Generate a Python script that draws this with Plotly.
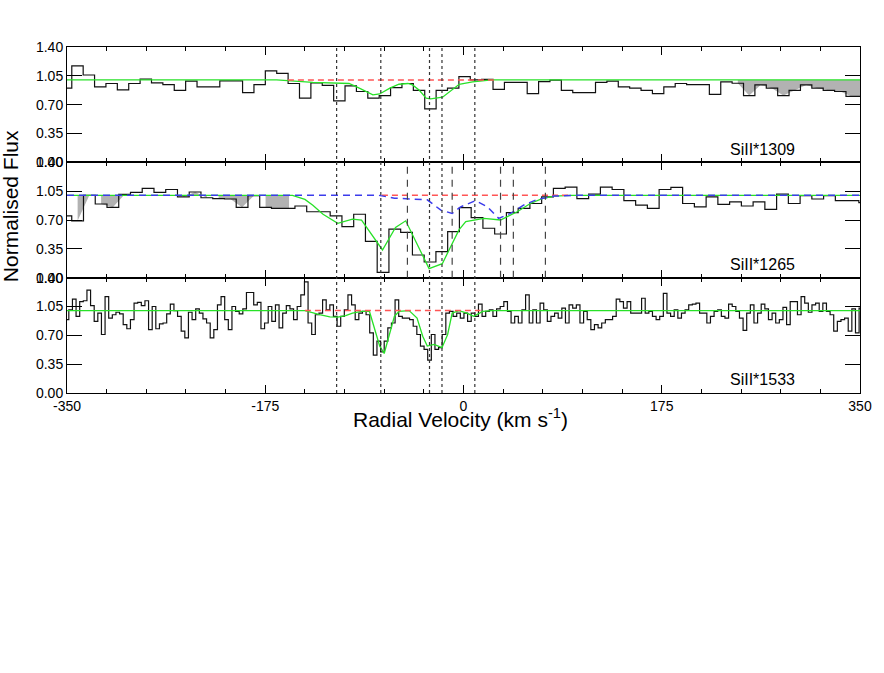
import numpy as np
import plotly.graph_objects as go
from plotly.subplots import make_subplots

# --- spectra: first bin centre, bin width (km/s) and normalised flux per bin ---
v0_1309, dv_1309 = -350.8, 10.05
flux_1309 = [0.90, 1.17, 1.06, 0.915, 0.957, 0.88, 0.957, 1.01, 0.964, 0.944,
             0.874, 0.985, 0.915, 0.915, 0.99, 0.99, 0.845, 0.944, 1.11, 1.08,
             0.957, 0.78, 0.964, 0.935, 0.747, 0.927, 0.86, 0.78, 0.81, 0.907,
             0.957, 0.874, 0.65, 0.874, 0.90, 1.04, 1.0, 1.006, 0.886, 0.97,
             0.97, 0.833, 0.98, 0.997, 0.874, 0.845, 0.845, 0.97, 0.985, 0.915,
             0.90, 0.874, 0.833, 0.915, 0.957, 0.944, 0.944, 0.824, 0.977, 0.96,
             0.81, 0.94, 0.90, 0.81, 0.874, 0.94, 0.90, 0.874, 0.86, 0.80, 0.80]

v0_1265, dv_1265 = -351.0, 10.37
flux_1265 = [0.75, 0.69, 1.0, 0.894, 0.854, 1.01, 1.036, 1.085, 1.036, 1.07,
             0.98, 1.04, 0.97, 0.96, 0.955, 0.854, 0.995, 0.854, 0.84, 0.84,
             0.87, 0.80, 0.80, 0.75, 0.62, 0.77, 0.44, 0.065, 0.59, 0.55,
             0.275, 0.19, 0.315, 0.56, 0.85, 0.73, 0.60, 0.53, 0.79, 0.84,
             0.90, 0.98, 1.085, 1.10, 0.96, 1.015, 1.10, 1.07, 0.935, 0.88,
             0.84, 1.07, 1.097, 0.90, 0.86, 0.98, 0.89, 0.92, 0.87, 0.92,
             0.83, 1.015, 0.90, 0.995, 0.955, 0.995, 0.935, 0.935, 0.91]

v0_1533, dv_1533 = -350.0, 3.2
flux_1533 = [0.89, 1.01, 1.14, 0.93, 1.11, 1.12, 1.25, 1.06, 0.87, 0.97,
             0.71, 1.17, 0.91, 0.95, 0.98, 0.96, 0.83, 0.78, 0.89, 1.09,
             1.10, 1.06, 1.12, 0.77, 1.05, 0.78, 0.84, 0.85, 0.96, 1.08,
             1.00, 0.93, 0.75, 0.67, 0.98, 0.89, 1.02, 0.97, 0.90, 0.85,
             0.67, 0.77, 1.07, 1.17, 0.89, 0.77, 1.05, 0.99, 0.96, 1.02,
             1.22, 1.22, 1.07, 1.10, 0.78, 0.85, 1.05, 0.87, 1.07, 0.79,
             0.97, 1.06, 1.02, 0.89, 1.05, 1.19, 1.35, 0.85, 0.71, 0.95,
             0.97, 1.13, 1.01, 1.07, 0.93,
             0.81, 0.93, 1.01, 1.19, 1.07, 0.89, 0.97, 0.99, 0.95, 0.73,
             0.46, 0.63, 0.50, 0.63, 0.79, 0.85, 1.13, 0.93, 0.91, 0.91,
             0.89, 0.81, 0.71, 0.57, 0.53, 0.40, 0.71, 0.53, 0.55, 0.71,
             0.97, 0.99, 0.93, 0.97, 0.91, 0.97, 0.87, 0.97, 0.93, 1.08,
             0.93, 0.99, 1.01, 0.93, 1.02, 1.05, 1.11, 0.99, 0.85, 0.93,
             0.85, 1.01, 1.19, 0.85, 1.01, 0.85, 1.09, 1.01, 0.87, 0.93,
             0.97, 0.91, 1.03, 0.85, 1.07, 1.03,
             1.07, 0.85, 0.99, 0.89, 0.77, 0.83, 0.79, 0.85, 0.89, 0.89,
             0.93, 1.14, 1.11, 1.03, 1.11, 0.97, 0.97, 0.97, 1.15, 0.97,
             0.99, 0.93, 0.89, 0.93, 1.21, 0.97, 0.93, 1.01, 0.91, 0.97,
             1.01, 1.07, 1.08, 1.09, 0.97, 0.97, 0.85, 0.93, 0.99, 1.01,
             0.93, 0.91, 1.08, 1.05, 0.99, 0.91, 0.76, 0.97, 1.07, 0.85,
             0.97, 1.08, 1.02, 0.89, 0.97, 0.85, 0.89, 1.04, 0.83, 1.11,
             1.11, 0.95, 1.17, 1.09, 0.98, 1.07, 1.09, 0.99, 1.09, 0.99,
             0.95, 0.75, 0.87, 0.89, 0.91, 0.75, 1.02, 0.73, 1.03]

# --- fitted models (green) ---
model_1309_v = [-350, -165, -133, -112, -101, -92, -80, -74, -65, -57, -49, -45,
                -39, -33, -29, -18.5, -12.6, -3.8, 8, 25, 350]
model_1309_f = [1.0, 1.0, 0.97, 0.965, 0.957, 0.90, 0.82, 0.83, 0.90, 0.948, 0.957, 0.94,
                0.874, 0.78, 0.77, 0.79, 0.85, 0.948, 0.976, 1.0, 1.0]

model_1265_v = [-350, -151, -140, -133, -124, -111, -98, -90, -71.5, -60, -51,
                -30.4, -18.7, -4, 2, 18, 32.7, 47.4, 59, 69.4, 80, 95, 350]
model_1265_f = [1.0, 1.0, 0.95, 0.88, 0.77, 0.66, 0.71, 0.70, 0.336, 0.61, 0.69,
                0.11, 0.17, 0.58, 0.68, 0.72, 0.70, 0.80, 0.90, 0.96, 0.99, 1.0, 1.0]

model_1533_v = [-350, -140, -127, -118, -111, -104, -98, -90, -83, -79, -74, -70,
                -66, -61, -57, -48, -41, -36, -32, -26, -19, -14, -10, -4, 3, 9,
                17, 25, 350]
model_1533_f = [1.0, 1.0, 0.95, 0.925, 0.92, 0.94, 0.97, 0.99, 0.99, 0.80, 0.57, 0.48,
                0.68, 0.93, 0.99, 1.0, 0.91, 0.69, 0.57, 0.59, 0.55, 0.71, 0.97, 1.0, 0.97, 0.93,
                0.99, 1.0, 1.0]

# blended contribution in the 1265 panel (blue)
blend_1265_v = [-350, -75, -61, -32, -20, -10, -2.5, 10.7, 21, 31, 41.5, 53, 65, 80, 100, 350]
blend_1265_f = [1.0, 1.0, 0.965, 0.945, 0.82, 0.78, 0.86, 0.935, 0.86, 0.72, 0.78, 0.88,
                0.95, 0.99, 1.0, 1.0]

# continuum (red) ranges
red_1309 = (-155, 27)
red_1265 = (-72, 95)
red_1533 = (-140, 15)

# masked (contaminated) ranges, shaded grey
masks_1309 = [(240, 355)]
masks_1265 = [(-341, -329), (-321, -298), (-248, -226), (-217, -185), (-175, -153)]

# velocity components
comp_dotted = [-112, -73, -30, -19, 10]
comp_dashed = [-49.5, -10, 32.7, 44, 72.3]

labels = ['SiII*1309', 'SiII*1265', 'SiII*1533']
x_ticks = [-350, -175, 0, 175, 350]
y_ticks = [0, 0.35, 0.7, 1.05, 1.4]

vel_1309 = v0_1309 + dv_1309 * np.arange(len(flux_1309))
vel_1265 = v0_1265 + dv_1265 * np.arange(len(flux_1265))
vel_1533 = v0_1533 + dv_1533 * np.arange(len(flux_1533))

fig = make_subplots(rows=3, cols=1, shared_xaxes=True, vertical_spacing=0)

GREEN = 'rgb(40,225,40)'
RED = 'rgb(255,85,85)'
BLUE = 'rgb(60,60,235)'
GREY = 'rgb(178,178,178)'


def add_masks(vel, flux, masks, row):
    vel = np.asarray(vel)
    flux = np.asarray(flux)
    for lo, hi in masks:
        sel = (vel >= lo) & (vel <= hi)
        xs, ys = vel[sel], flux[sel]
        fig.add_trace(go.Scatter(
            x=[xs[0]] + list(xs) + [xs[-1]], y=[1.0] + list(ys) + [1.0],
            mode='lines', fill='toself', fillcolor=GREY, line=dict(width=0),
            hoverinfo='skip'), row=row, col=1)


panels = [
    (vel_1309, flux_1309, model_1309_v, model_1309_f, red_1309, masks_1309, None),
    (vel_1265, flux_1265, model_1265_v, model_1265_f, red_1265, masks_1265, (blend_1265_v, blend_1265_f)),
    (vel_1533, flux_1533, model_1533_v, model_1533_f, red_1533, [], None),
]

for i, (vel, flux, mv, mf, red, masks, blend) in enumerate(panels):
    row = i + 1
    add_masks(vel, flux, masks, row)
    fig.add_trace(go.Scatter(x=vel, y=flux, mode='lines', line_shape='hvh',
                             line=dict(color='#111111', width=1.2)), row=row, col=1)
    fig.add_trace(go.Scatter(x=mv, y=mf, mode='lines',
                             line=dict(color=GREEN, width=1.3)), row=row, col=1)
    fig.add_trace(go.Scatter(x=list(red), y=[1.0, 1.0], mode='lines',
                             line=dict(color=RED, width=1.5, dash='6px,4px')), row=row, col=1)
    if blend is not None:
        fig.add_trace(go.Scatter(x=blend[0], y=blend[1], mode='lines',
                                 line=dict(color=BLUE, width=1.5, dash='7px,5px')), row=row, col=1)
    yref = 'y' if row == 1 else 'y%d' % row
    fig.add_annotation(x=263.6, y=0.16, xref='x', yref=yref, text=labels[i],
                       showarrow=False, font=dict(size=16), xanchor='center', yanchor='middle')

for v in comp_dotted:
    fig.add_shape(type='line', xref='x', yref='paper', x0=v, x1=v, y0=0, y1=1,
                  line=dict(color='#333333', width=1.2, dash='dot'))
for v in comp_dashed:
    fig.add_shape(type='line', xref='x2', yref='y2', x0=v, x1=v, y0=0, y1=1.4,
                  line=dict(color='#444444', width=1.2, dash='7px,6px'))

fig.update_xaxes(range=[-350, 350], tickmode='array', tickvals=x_ticks,
                 ticktext=[str(t) for t in x_ticks],
                 ticks='inside', ticklen=8, tickcolor='black', showline=True,
                 linecolor='black', linewidth=1, mirror='ticks', showgrid=False,
                 zeroline=False,
                 minor=dict(ticks='inside', ticklen=4, dtick=35, tick0=0,
                            tickcolor='black', showgrid=False))
fig.update_yaxes(range=[0, 1.4], tickmode='array', tickvals=y_ticks,
                 ticktext=['%.2f' % t for t in y_ticks],
                 ticks='inside', ticklen=15, tickcolor='black', showline=True,
                 linecolor='black', linewidth=1, mirror='ticks', showgrid=False,
                 zeroline=False)

fig.add_annotation(text='Radial Velocity (km s<sup>-1</sup>)', xref='paper', yref='paper',
                   x=0.496, y=-0.071, showarrow=False, font=dict(size=21),
                   xanchor='center', yanchor='middle')
fig.add_annotation(text='Normalised Flux', xref='paper', yref='paper',
                   x=-0.0704, y=0.5405, showarrow=False, font=dict(size=21),
                   textangle=-90, xanchor='center', yanchor='middle')

fig.update_layout(width=884, height=673, showlegend=False,
                  margin=dict(l=67, r=22, t=47, b=280),
                  plot_bgcolor='white', paper_bgcolor='white',
                  font=dict(family='Liberation Sans, Arial, sans-serif', size=14, color='black'))

# drop the default page margin so the figure sits at the window's corner
fig.write_html("out.html", config={'displayModeBar': False},
               post_script="document.body.style.margin='0';")
